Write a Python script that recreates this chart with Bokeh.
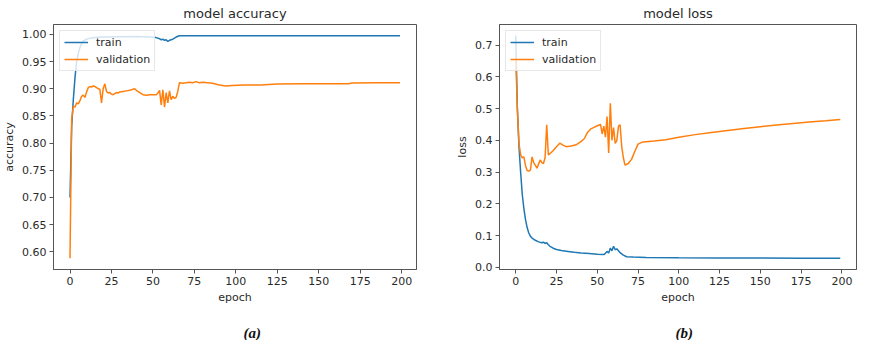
from bokeh.plotting import figure
from bokeh.layouts import row
from bokeh.models import Range1d, SingleIntervalTicker, PrintfTickFormatter, Legend, LegendItem, Title
from bokeh.embed import file_html
from bokeh.resources import INLINE

# ---------------- data ----------------
train_acc_epoch = [0, 1, 2, 3, 4, 5, 6, 7, 8, 10, 12, 15, 20, 30, 40, 48, 52, 54,
                   55, 56, 57, 58, 59, 60, 61, 62, 63, 64, 66, 80, 100, 150, 199]
train_acc = [0.70, 0.83, 0.88, 0.92, 0.95, 0.965, 0.976, 0.983, 0.988,
             0.991, 0.993, 0.994, 0.995, 0.9955, 0.996, 0.995, 0.994, 0.992,
             0.990, 0.991, 0.989, 0.990, 0.987, 0.989, 0.990, 0.991, 0.993, 0.995,
             0.9975, 0.9975, 0.9975, 0.9976, 0.9976]

val_acc_epoch = [0, 1, 2, 3, 4, 5, 6, 7, 8, 9, 10, 11, 12, 13, 14, 15, 16, 17, 18, 19,
                 20, 21, 22, 23, 24, 25, 26, 27, 28, 29, 30, 32, 34, 36, 38, 39, 40, 42,
                 44, 46, 48, 50, 52, 53, 54, 55, 56, 57, 58, 59, 60, 61, 62, 63, 64, 65,
                 66, 68, 70, 72, 74, 76, 78, 80, 83, 86, 90, 94, 98, 105, 115, 125, 140,
                 155, 168, 170, 185, 199]
val_acc = [0.588, 0.843, 0.868, 0.866, 0.874, 0.872, 0.878, 0.886, 0.888, 0.884,
           0.894, 0.902, 0.904, 0.903, 0.905, 0.904, 0.902, 0.900, 0.899, 0.874,
           0.900, 0.909, 0.895, 0.892, 0.893, 0.890, 0.889, 0.891, 0.893, 0.892,
           0.894, 0.895, 0.896, 0.897, 0.899, 0.900, 0.897, 0.893, 0.889, 0.888,
           0.889, 0.889, 0.889,
           0.892, 0.897, 0.870, 0.898, 0.866, 0.893, 0.874, 0.896, 0.880, 0.886,
           0.882, 0.884, 0.895, 0.911,
           0.910, 0.911, 0.912, 0.911, 0.913, 0.911, 0.912, 0.911, 0.910, 0.907,
           0.905, 0.906,
           0.907, 0.907, 0.9085, 0.909, 0.909, 0.909, 0.9105, 0.911, 0.911]

train_loss_epoch = [0, 1, 2, 3, 4, 5, 6, 7, 8, 9, 10, 12, 14, 16, 17, 18, 19, 20, 21,
                    23, 25, 28, 32, 36, 40, 45, 50, 54, 55, 56, 57, 58, 59, 60, 61, 62,
                    63, 64, 66, 68, 72, 80, 100, 125, 150, 175, 199]
train_loss = [0.73, 0.50, 0.38, 0.30, 0.23, 0.185, 0.15, 0.125, 0.108, 0.098, 0.092,
              0.085, 0.080, 0.077, 0.079, 0.075, 0.077, 0.071, 0.066, 0.060, 0.056,
              0.053, 0.050, 0.047, 0.045, 0.043, 0.041, 0.040,
              0.044, 0.050, 0.045, 0.060, 0.052, 0.066, 0.055, 0.058, 0.052, 0.046,
              0.038, 0.033, 0.032, 0.031, 0.030, 0.0295, 0.029, 0.0285, 0.028]

val_loss_epoch = [0, 1, 2, 3, 4, 5, 6, 7, 8, 9, 10, 11, 12, 13, 14, 15, 16, 17, 18, 19,
                  20, 21, 23, 25, 27, 29, 31, 34, 37, 40, 42, 44, 46, 48, 50, 52, 53, 54,
                  55, 56, 57, 58, 59, 60, 61, 62, 63, 64, 65, 66, 67, 69, 71, 73, 75, 78,
                  85, 92, 100, 110, 120, 130, 140, 150, 160, 170, 180, 190, 199]
val_loss = [0.66, 0.50, 0.39, 0.355, 0.345, 0.348, 0.32, 0.305, 0.303, 0.306,
            0.348, 0.330, 0.322, 0.312, 0.325, 0.338, 0.330, 0.327, 0.345, 0.449,
            0.354, 0.358,
            0.368, 0.380, 0.391, 0.385, 0.380, 0.382, 0.386, 0.396, 0.405, 0.425,
            0.436, 0.441, 0.446, 0.450,
            0.420, 0.445, 0.41, 0.475, 0.36, 0.517, 0.40, 0.44, 0.39, 0.40, 0.445,
            0.449, 0.38, 0.345, 0.322,
            0.327, 0.340, 0.365, 0.388, 0.395, 0.398, 0.402, 0.41, 0.418, 0.425,
            0.431, 0.437, 0.443, 0.448, 0.453, 0.458, 0.462, 0.466]

x_tick_step = 25
acc_tick_step = 0.05
loss_tick_step = 0.1
series_names = ["train", "validation"]
titles = ["model accuracy", "model loss"]
ylabels = ["accuracy", "loss"]
captions = ["(a)", "(b)"]

BLUE = "#1f77b4"
ORANGE = "#ff7f0e"
FONT = "DejaVu Sans"
TEXT = "#2a2a2a"
SPINE = "#555555"


def make_panel(title, ylabel, caption, s_train, s_val, ystep, yfmt, width,
               b_left, b_right, cap_offset):
    xs = list(s_train[0]) + list(s_val[0])
    ys = list(s_train[1]) + list(s_val[1])
    xlo, xhi = min(xs), max(xs)
    ylo, yhi = min(ys), max(ys)
    xm, ym = 0.05 * (xhi - xlo), 0.05 * (yhi - ylo)
    p = figure(width=width, frame_height=245, output_backend="svg", toolbar_location=None,
               x_range=Range1d(xlo - xm, xhi + xm), y_range=Range1d(ylo - ym, yhi + ym),
               min_border_left=b_left, min_border_right=b_right,
               min_border_top=17, min_border_bottom=0)
    p.background_fill_color = "white"
    p.border_fill_color = "white"
    p.outline_line_color = SPINE
    p.outline_line_width = 1
    p.xgrid.visible = False
    p.ygrid.visible = False

    p.title.text = title
    p.title.align = "center"
    p.title.text_font = FONT
    p.title.text_font_size = "13px"
    p.title.text_font_style = "normal"
    p.title.text_color = TEXT
    p.title.standoff = 7

    r1 = p.line(s_train[0], s_train[1], line_color=BLUE, line_width=1.5)
    r2 = p.line(s_val[0], s_val[1], line_color=ORANGE, line_width=1.5)

    p.xaxis.ticker = SingleIntervalTicker(interval=x_tick_step)
    p.yaxis.ticker = SingleIntervalTicker(interval=ystep)
    p.yaxis.formatter = PrintfTickFormatter(format=yfmt)
    p.xaxis.axis_label = "epoch"
    p.yaxis.axis_label = ylabel
    for ax in p.axis:
        ax.axis_line_color = SPINE
        ax.major_tick_line_color = SPINE
        ax.minor_tick_line_color = None
        ax.major_tick_in = 0
        ax.major_tick_out = 4
        ax.major_label_standoff = 3
        ax.major_label_text_font = FONT
        ax.major_label_text_font_size = "11px"
        ax.major_label_text_color = TEXT
        ax.axis_label_text_font = FONT
        ax.axis_label_text_font_size = "11px"
        ax.axis_label_text_font_style = "normal"
        ax.axis_label_text_color = TEXT
        ax.axis_label_standoff = 3

    legend = Legend(items=[LegendItem(label=series_names[0], renderers=[r1]),
                           LegendItem(label=series_names[1], renderers=[r2])],
                    location="top_left")
    legend.label_text_font = FONT
    legend.label_text_font_size = "11px"
    legend.label_text_color = TEXT
    legend.border_line_color = "#d0d0d0"
    legend.background_fill_alpha = 0.8
    legend.glyph_width = 24
    legend.glyph_height = 14
    legend.label_height = 14
    legend.spacing = 3
    legend.padding = 4
    legend.margin = 6
    legend.label_standoff = 8
    p.add_layout(legend)

    spacer = Title(text=" ", text_font_size="12px", standoff=0)
    p.add_layout(spacer, "below")
    cap = Title(text=caption, align="left", offset=cap_offset, vertical_align="bottom",
                standoff=0, text_font="Liberation Serif", text_font_size="15px",
                text_font_style="bold italic", text_color="#111111")
    p.add_layout(cap, "below")
    return p


p1 = make_panel(titles[0], ylabels[0], captions[0], (train_acc_epoch, train_acc),
                (val_acc_epoch, val_acc), acc_tick_step, "%.2f", 442, 45, 26, 190)
p2 = make_panel(titles[1], ylabels[1], captions[1], (train_loss_epoch, train_loss),
                (val_loss_epoch, val_loss), loss_tick_step, "%.1f", 415, 57, 1, 176)

layout = row(p1, p2)
open("out.html", "w").write(file_html(layout, INLINE))
